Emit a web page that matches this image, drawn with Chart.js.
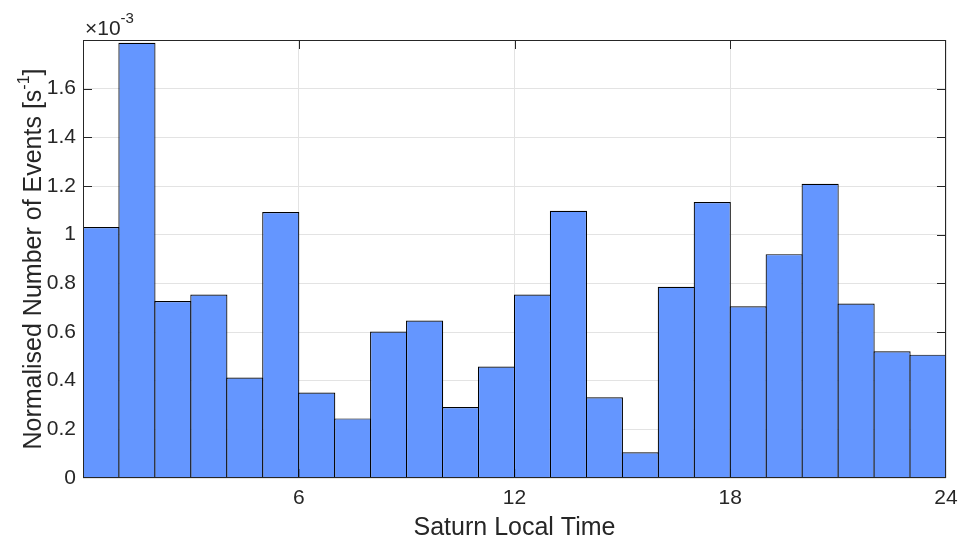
<!DOCTYPE html>
<html>
  <head>
    <meta charset="UTF-8" />
    <title>Events vs Saturn Local Time</title>
    <style>
      html, body { margin: 0; padding: 0; background: #fff; }
      #chart { display: block; }
    </style>
  </head>
  <body>
    <canvas id="chart" width="963" height="541"></canvas>
    <script src="https://cdn.jsdelivr.net/npm/chart.js"></script>
    <script>
      // one-hour local time bins (bin centres, hours)
      const binCentres = [0.5, 1.5, 2.5, 3.5, 4.5, 5.5, 6.5, 7.5, 8.5, 9.5, 10.5, 11.5,
                          12.5, 13.5, 14.5, 15.5, 16.5, 17.5, 18.5, 19.5, 20.5, 21.5, 22.5, 23.5];
      // normalised number of events per bin, in units of 1e-3 s^-1
      const eventRate = [1.031, 1.789, 0.727, 0.754, 0.413, 1.093, 0.351, 0.245, 0.602, 0.647, 0.292, 0.458,
                         0.754, 1.098, 0.332, 0.106, 0.786, 1.134, 0.706, 0.920, 1.209, 0.717, 0.521, 0.507];
      const xTicks = [6, 12, 18, 24];
      const yTicks = [0, 0.2, 0.4, 0.6, 0.8, 1, 1.2, 1.4, 1.6];

      const FONT = 'Liberation Sans, Arial, Helvetica, sans-serif';
      const INK = '#262626';
      const TICK_LEN = 9;

      // MATLAB-style axes: inward ticks under the bars, box on top, titles and exponent
      const axesDecor = {
        id: 'axesDecor',
        beforeDatasetsDraw(chart) {
          const { ctx, chartArea: a, scales: { x, y } } = chart;
          ctx.save();
          ctx.strokeStyle = INK;
          ctx.lineWidth = 1;
          ctx.beginPath();
          xTicks.forEach(v => {
            const px = Math.round(x.getPixelForValue(v)) + 0.5;
            if (px < a.left + 2 || px > a.right - 2) return; // sits on the box
            ctx.moveTo(px, a.bottom); ctx.lineTo(px, a.bottom - TICK_LEN);
            ctx.moveTo(px, a.top); ctx.lineTo(px, a.top + TICK_LEN);
          });
          yTicks.forEach(v => {
            const py = Math.round(y.getPixelForValue(v)) + 0.5;
            if (py < a.top + 2 || py > a.bottom - 2) return;
            ctx.moveTo(a.left, py); ctx.lineTo(a.left + TICK_LEN, py);
            ctx.moveTo(a.right, py); ctx.lineTo(a.right - TICK_LEN, py);
          });
          ctx.stroke();
          ctx.restore();
        },
        afterDatasetsDraw(chart) {
          const { ctx, chartArea: a } = chart;
          ctx.save();
          ctx.strokeStyle = INK;
          ctx.lineWidth = 1;
          ctx.strokeRect(a.left + 0.5, a.top + 0.5, a.right - a.left - 1, a.bottom - a.top - 1);
          ctx.restore();
        },
        afterDraw(chart) {
          const { ctx, chartArea: a } = chart;
          ctx.save();
          ctx.fillStyle = INK;

          // x title
          ctx.font = '25px ' + FONT;
          ctx.textAlign = 'center';
          ctx.textBaseline = 'middle';
          ctx.fillText('Saturn Local Time', (a.left + a.right) / 2, 528);

          // y title with superscript
          const main = 'Normalised Number of Events [s';
          const sup = '-1';
          const end = ']';
          ctx.translate(41, (a.top + a.bottom) / 2);
          ctx.rotate(-Math.PI / 2);
          ctx.textAlign = 'left';
          ctx.textBaseline = 'alphabetic';
          ctx.font = '25px ' + FONT;
          const wMain = ctx.measureText(main).width;
          const wEnd = ctx.measureText(end).width;
          ctx.font = '16px ' + FONT;
          const wSup = ctx.measureText(sup).width;
          let cx = -(wMain + wSup + wEnd) / 2;
          ctx.font = '25px ' + FONT;
          ctx.fillText(main, cx, 0);
          cx += wMain;
          ctx.font = '16px ' + FONT;
          ctx.fillText(sup, cx, -12);
          cx += wSup;
          ctx.font = '25px ' + FONT;
          ctx.fillText(end, cx, 0);
          ctx.restore();

          // axis exponent
          ctx.save();
          ctx.fillStyle = INK;
          ctx.textAlign = 'left';
          ctx.textBaseline = 'alphabetic';
          ctx.font = '21px ' + FONT;
          ctx.fillText('\u00d710', 85, 35);
          const w = ctx.measureText('\u00d710').width;
          ctx.font = '15px ' + FONT;
          ctx.fillText('-3', 85 + w, 23);
          ctx.restore();
        }
      };

      const ctx = document.getElementById('chart').getContext('2d');
      const chart = new Chart(ctx, {
        type: 'bar',
        data: {
          datasets: [
            {
              data: binCentres.map((h, i) => ({ x: h, y: eventRate[i] })),
              backgroundColor: '#6496ff',
              borderColor: '#000000',
              borderWidth: 1.2,
              // a hair wider than a bin so neighbouring edges share one line
              barPercentage: 1.033,
              categoryPercentage: 1,
              inflateAmount: 0,
            },
          ],
        },
        options: {
          responsive: false,
          animation: false,
          devicePixelRatio: 1,
          layout: { padding: { top: 40, right: 17, left: 0, bottom: 0 } },
          plugins: {
            legend: { display: false },
            tooltip: { enabled: false },
          },
          scales: {
            x: {
              type: 'linear',
              min: 0,
              max: 24,
              offset: false,
              afterBuildTicks: s => { s.ticks = xTicks.map(v => ({ value: v })); },
              afterFit: s => {
                s.height = 63;
                s.paddingLeft = 0;
                s.paddingRight = 0;
              },
              grid: { color: '#e3e3e3', drawTicks: false, offset: false },
              border: { display: false },
              ticks: {
                color: INK,
                font: { family: FONT, size: 21 },
                padding: 8,
                maxRotation: 0,
                callback: v => String(v),
              },
            },
            y: {
              type: 'linear',
              min: 0,
              max: 1.8,
              afterBuildTicks: s => { s.ticks = yTicks.map(v => ({ value: v })); },
              afterFit: s => {
                s.width = 83;
                s.paddingTop = 0;
                s.paddingBottom = 0;
              },
              grid: { color: '#e3e3e3', drawTicks: false },
              border: { display: false },
              ticks: {
                color: INK,
                font: { family: FONT, size: 21 },
                padding: 7,
                callback: v => String(Number(v.toFixed(1))),
              },
            },
          },
        },
        plugins: [axesDecor],
      });
    </script>
  </body>
</html>
